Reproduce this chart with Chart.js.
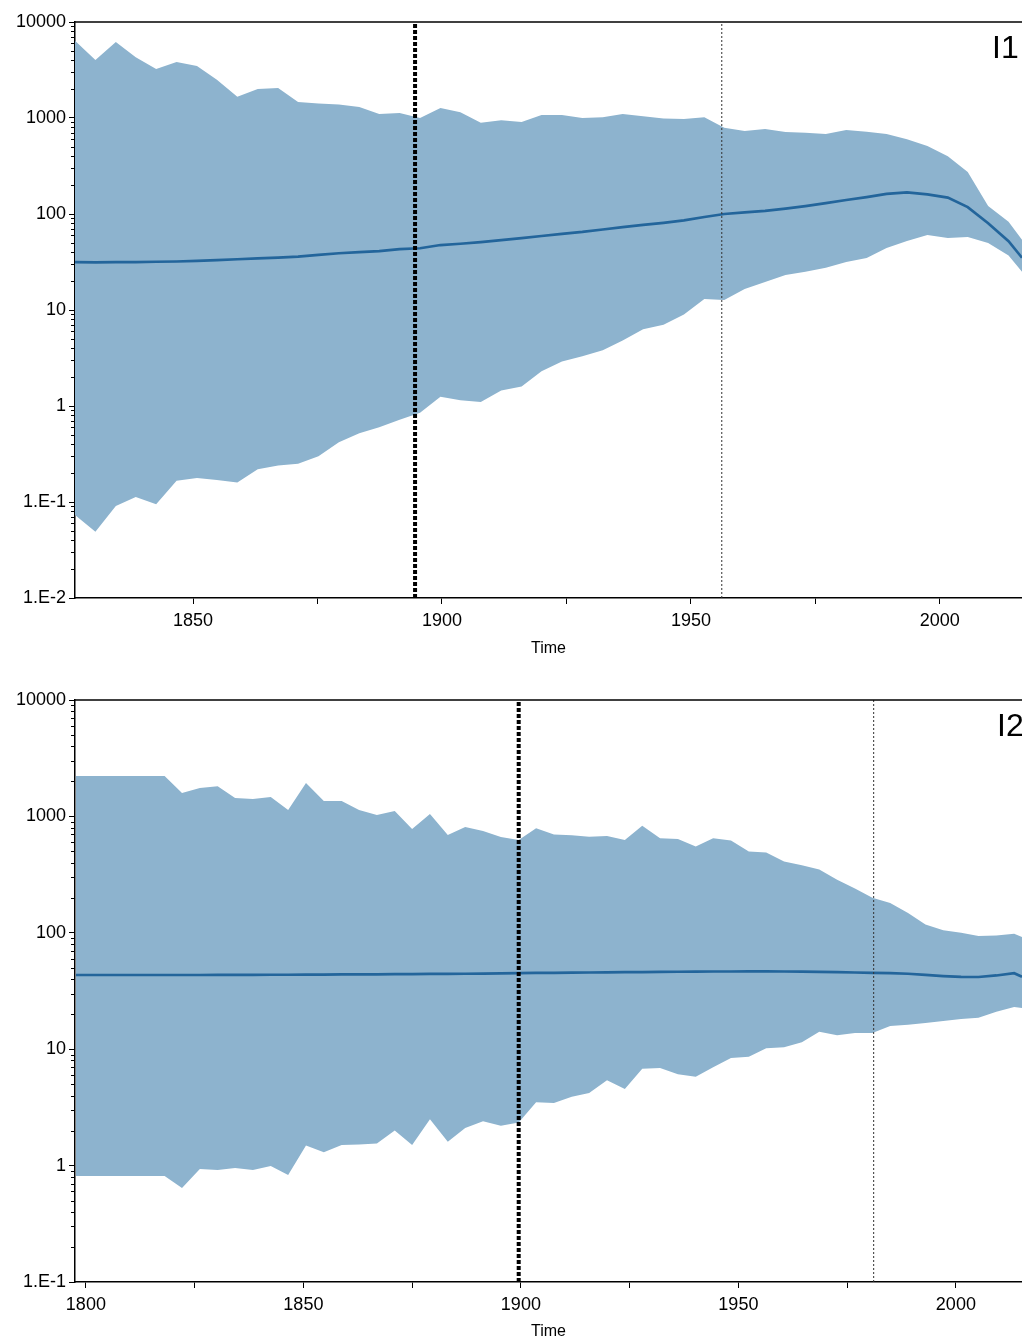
<!DOCTYPE html>
<html>
<head>
<meta charset="utf-8">
<script src="https://cdn.jsdelivr.net/npm/chart.js@4/dist/chart.umd.min.js"></script>
<style>
  body { margin: 0; background: #fff; }
  canvas { position: absolute; left: 0; }
  #c1 { top: 0; }
  #c2 { top: 680px; }
</style>
</head>
<body>
<canvas id="c1" width="1022" height="665"></canvas>
<canvas id="c2" width="1022" height="660"></canvas>
<script>
// ---- panel I1 ----
var years1 = [1826.3, 1830.4, 1834.5, 1838.5, 1842.6, 1846.7, 1850.8, 1854.8, 1858.9, 1863.0,
  1867.1, 1871.1, 1875.2, 1879.3, 1883.4, 1887.4, 1891.5, 1895.6, 1899.7, 1903.7,
  1907.8, 1911.9, 1916.0, 1920.0, 1924.1, 1928.2, 1932.3, 1936.3, 1940.4, 1944.5,
  1948.6, 1952.7, 1956.7, 1960.8, 1964.9, 1969.0, 1973.0, 1977.1, 1981.2, 1985.3,
  1989.3, 1993.4, 1997.5, 2001.6, 2005.6, 2009.7, 2013.8, 2016.5];
var upper1 = [6380, 4020, 6200, 4300, 3240, 3830, 3480, 2500, 1660, 2000,
  2050, 1470, 1420, 1380, 1300, 1100, 1130, 1000, 1270, 1150,
  890, 950, 910, 1075, 1075, 1000, 1020, 1100, 1040, 990,
  975, 1020, 790, 730, 770, 715, 700, 680, 750, 720,
  680, 600, 510, 400, 274, 121, 83, 54];
var median1 = [31.6, 31.3, 31.5, 31.6, 31.8, 32, 32.5, 33, 33.8, 34.5,
  35.2, 36, 37.5, 39, 40, 41, 43, 44, 47.5, 49,
  51, 53.5, 56, 59, 62, 65, 69, 73, 77, 81,
  86, 93, 100, 104, 108, 114, 121, 130, 140, 150,
  162, 168, 160, 148, 118, 80, 52, 35];
var lower1 = [0.073, 0.049, 0.091, 0.113, 0.095, 0.166, 0.178, 0.17, 0.16, 0.22,
  0.24, 0.25, 0.3, 0.42, 0.52, 0.6, 0.72, 0.85, 1.25, 1.15,
  1.1, 1.45, 1.6, 2.3, 2.9, 3.3, 3.8, 4.8, 6.3, 7.0,
  9.0, 13.0, 12.7, 16.5, 19.6, 23.2, 25, 27.5, 31.6, 34.8,
  44.3, 52.4, 60.4, 56.2, 57.5, 50, 37, 25];
var marks1 = [1894.6, 1956.2];
var xRange1 = [1826.3, 2016.5];
var yRange1 = [0.01, 10000];

// ---- panel I2 ----
var years2 = [1797.7, 1801.8, 1805.8, 1809.9, 1814.0, 1818.1, 1822.1, 1826.2, 1830.3, 1834.3,
  1838.4, 1842.5, 1846.5, 1850.6, 1854.7, 1858.8, 1862.8, 1866.9, 1871.0, 1875.0,
  1879.1, 1883.2, 1887.2, 1891.3, 1895.4, 1899.5, 1903.5, 1907.6, 1911.7, 1915.7,
  1919.8, 1923.9, 1927.9, 1932.0, 1936.1, 1940.2, 1944.2, 1948.3, 1952.4, 1956.4,
  1960.5, 1964.6, 1968.6, 1972.7, 1976.8, 1980.8, 1984.9, 1989.0, 1993.0, 1997.1,
  2001.2, 2005.2, 2009.3, 2013.4, 2015.2];
var upper2 = [2220, 2220, 2220, 2220, 2220, 2220, 1590, 1750, 1820, 1440,
  1410, 1470, 1135, 1940, 1355, 1355, 1135, 1030, 1112, 780,
  1050, 692, 811, 750, 665, 627, 790, 700, 690, 670,
  680, 627, 830, 650, 640, 550, 650, 620, 500, 490,
  410, 380, 350, 285, 240, 200, 180, 148, 118, 105,
  100, 94, 95, 98, 92];
var median2 = [43.4, 43.4, 43.4, 43.4, 43.4, 43.4, 43.4, 43.4, 43.5, 43.5,
  43.5, 43.6, 43.6, 43.7, 43.8, 43.9, 44, 44, 44.1, 44.2,
  44.3, 44.4, 44.5, 44.6, 44.8, 45, 45.2, 45.3, 45.5, 45.6,
  45.8, 45.9, 46, 46.2, 46.3, 46.4, 46.5, 46.5, 46.6, 46.6,
  46.5, 46.4, 46.2, 46, 45.6, 45.2, 45, 44.5, 43.5, 42.5,
  41.8, 41.7, 43, 45, 42];
var lower2 = [0.815, 0.815, 0.815, 0.815, 0.815, 0.815, 0.643, 0.935, 0.917, 0.953,
  0.917, 0.99, 0.83, 1.49, 1.3, 1.5, 1.52, 1.55, 2.0, 1.5,
  2.5, 1.6, 2.1, 2.4, 2.2, 2.35, 3.5, 3.45, 3.9, 4.2,
  5.4, 4.55, 6.8, 6.9, 6.1, 5.8, 7.0, 8.4, 8.6, 10.2,
  10.4, 11.5, 14.1, 13.2, 13.8, 13.8, 15.8, 16.2, 16.8, 17.5,
  18.2, 18.6, 21, 23, 22.6];
var marks2 = [1899.5, 1981.1];
var xRange2 = [1797.5, 2015.2];
var yRange2 = [0.1, 10000];

var FONT = '"Liberation Sans", Arial, sans-serif';
var BAND = 'rgb(141,179,206)';
var LINE = 'rgb(35,101,155)';

function pts(xs, ys) {
  return xs.map(function(x, i) { return {x: x, y: ys[i]}; });
}

var extras = {
  id: 'extras',
  afterDraw: function(chart, args, o) {
    var ctx = chart.ctx, a = chart.chartArea, y = chart.scales.y;
    ctx.save();
    ctx.strokeStyle = '#000';
    ctx.lineWidth = 1.5;
    ctx.beginPath();
    ctx.moveTo(a.left, a.top);
    ctx.lineTo(a.right, a.top);
    ctx.stroke();
    // minor log ticks
    ctx.lineWidth = 1;
    var e0 = Math.round(Math.log10(y.min)), e1 = Math.round(Math.log10(y.max));
    for (var e = e0; e < e1; e++) {
      for (var k = 2; k < 10; k++) {
        var py = Math.round(y.getPixelForValue(k * Math.pow(10, e))) + 0.5;
        ctx.beginPath();
        ctx.moveTo(a.left - 4, py);
        ctx.lineTo(a.left, py);
        ctx.stroke();
      }
    }
    ctx.fillStyle = '#000';
    ctx.font = '32px ' + FONT;
    ctx.textBaseline = 'top';
    ctx.fillText(o.label, a.right - o.inset, a.top + 11);
    ctx.restore();
  }
};

function makeChart(id, years, upper, median, lower, marks, xRange, yRange, label, inset, padTop, plotBottom, titlePad) {
  var canvas = document.getElementById(id);
  var lo = yRange[0], hi = yRange[1];
  // lower 'order' is drawn on top
  var datasets = [
    {data: pts(years, upper), backgroundColor: BAND, borderWidth: 0, fill: {target: 1}, pointRadius: 0, showLine: true, order: 5},
    {data: pts(years, lower), borderWidth: 0, fill: false, pointRadius: 0, showLine: true, order: 4},
    {data: pts(years, median), borderColor: LINE, borderWidth: 2.7, fill: false, pointRadius: 0, showLine: true, order: 3},
    {data: [{x: marks[0], y: lo}, {x: marks[0], y: hi}], borderColor: '#000', borderWidth: 4,
      borderDash: [4, 2], pointRadius: 0, showLine: true, order: 1},
    {data: [{x: marks[1], y: lo}, {x: marks[1], y: hi}], borderColor: '#333', borderWidth: 1,
      borderDash: [2, 2], pointRadius: 0, showLine: true, order: 2}
  ];
  return new Chart(canvas, {
    type: 'scatter',
    data: {datasets: datasets},
    options: {
      responsive: false,
      animation: false,
      events: [],
      layout: {padding: {top: padTop, right: 0, left: 0, bottom: 0}},
      plugins: {legend: {display: false}, tooltip: {enabled: false}, extras: {label: label, inset: inset}},
      scales: {
        x: {
          type: 'linear', min: xRange[0], max: xRange[1],
          afterFit: function(s) { s.height = canvas.height - plotBottom; },
          ticks: {stepSize: 25, includeBounds: false, color: '#000', padding: 6, maxRotation: 0,
            font: {family: FONT, size: 18},
            callback: function(v) { return v % 50 === 0 ? String(v) : ''; }},
          grid: {display: true, drawOnChartArea: false, drawTicks: true, tickLength: 6, color: '#000'},
          border: {display: true, color: '#000', width: 1.5},
          title: {display: true, text: 'Time', color: '#000', font: {family: FONT, size: 16, lineHeight: 1},
            padding: {top: 4, bottom: titlePad}}
        },
        y: {
          type: 'logarithmic', min: lo, max: hi,
          afterFit: function(s) { s.width = 75; },
          afterBuildTicks: function(s) {
            var t = [];
            for (var v = lo; v <= hi * 1.001; v *= 10) t.push({value: v});
            s.ticks = t;
          },
          ticks: {color: '#000', padding: 3, font: {family: FONT, size: 18},
            callback: function(v) {
              var e = Math.round(Math.log10(v));
              return e >= 0 ? String(Math.pow(10, e)) : '1.E' + e;
            }},
          grid: {display: true, drawOnChartArea: false, drawTicks: true, tickLength: 6, color: '#000'},
          border: {display: true, color: '#000', width: 1.5}
        }
      }
    },
    plugins: [extras]
  });
}

makeChart('c1', years1, upper1, median1, lower1, marks1, xRange1, yRange1, 'I1', 30, 22, 598, 8);
makeChart('c2', years2, upper2, median2, lower2, marks2, xRange2, yRange2, 'I2', 25, 20, 602, 0);
</script>
</body>
</html>
